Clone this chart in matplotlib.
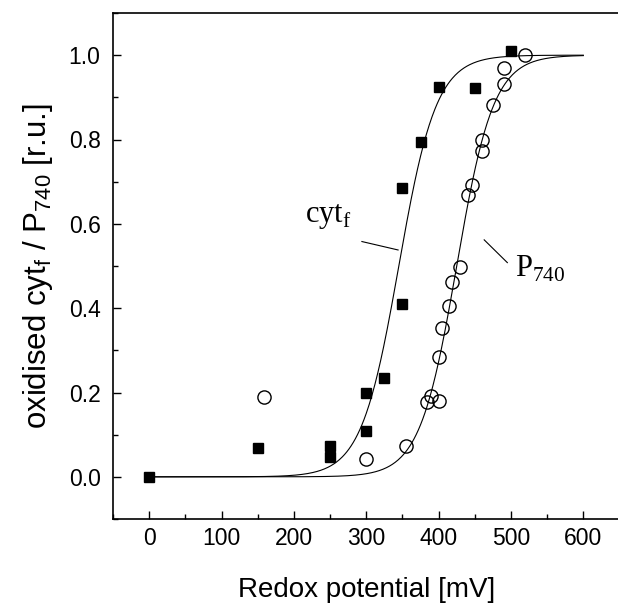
import numpy as np
import matplotlib
matplotlib.use('Agg')
import matplotlib.pyplot as plt
from matplotlib.ticker import MultipleLocator

plt.rcParams['font.family'] = ['Liberation Sans', 'DejaVu Sans']
plt.rcParams['mathtext.fontset'] = 'custom'
plt.rcParams['mathtext.rm'] = 'Liberation Serif'
plt.rcParams['mathtext.sf'] = 'Liberation Sans'

# cyt f (filled squares)
cytE = [0, 150, 250, 250, 300, 300, 325, 350, 350, 375, 400, 450, 500]
cytOx = [0.0, 0.068, 0.074, 0.047, 0.109, 0.198, 0.234, 0.410, 0.686, 0.794, 0.924, 0.922, 1.009]

# P740 (open circles)
pE = [158, 300, 355, 384, 389, 400, 400, 405, 415, 418, 430, 440, 446,
      460, 460, 475, 490, 490, 520]
pOx = [0.189, 0.042, 0.074, 0.178, 0.192, 0.181, 0.285, 0.354, 0.406, 0.463, 0.497, 0.669, 0.693,
       0.773, 0.800, 0.882, 0.932, 0.970, 1.001]

# Nernst fits: midpoint potential and slope [mV]
cytMid, cytSlope = 345, 26
pMid, pSlope = 425, 25.5


def nernst(e, mid, slope):
    return 1.0 / (1.0 + np.exp(-(e - mid) / slope))


fig = plt.figure(figsize=(6.18, 6.04), dpi=100)
ax = fig.add_axes([113 / 618, 85 / 604, 506.5 / 618, 506 / 604])

eFit = np.linspace(0, 600, 601)
ax.plot(eFit, nernst(eFit, cytMid, cytSlope), color='black', lw=0.8)
ax.plot(eFit, nernst(eFit, pMid, pSlope), color='black', lw=0.8)

ax.plot(cytE, cytOx, 's', color='black', markersize=6.5, zorder=3)
ax.plot(pE, pOx, 'o', markerfacecolor='none', markeredgecolor='black',
        markersize=9.5, markeredgewidth=1.0, zorder=3)

ax.set_xlim(-50, 650)
ax.set_ylim(-0.1, 1.1)
ax.xaxis.set_major_locator(MultipleLocator(100))
ax.xaxis.set_minor_locator(MultipleLocator(50))
ax.yaxis.set_major_locator(MultipleLocator(0.2))
ax.yaxis.set_minor_locator(MultipleLocator(0.1))
ax.yaxis.set_major_formatter(matplotlib.ticker.FormatStrFormatter('%.1f'))
ax.tick_params(which='both', direction='in', top=False, right=False, labelsize=16.5, width=1)
ax.tick_params(axis='x', which='major', length=6, pad=6)
ax.tick_params(axis='y', which='major', length=6, pad=9)
ax.tick_params(which='minor', length=3.5)
for s in ax.spines.values():
    s.set_linewidth(1.2)

ax.set_xlabel('Redox potential [mV]', fontsize=20, labelpad=19)
ax.set_ylabel(r'oxidised cyt$_\mathsf{f}$ / P$_\mathsf{740}$ [r.u.]', fontsize=22.5, labelpad=10)

# curve labels with leader lines
ax.plot([294, 344], [0.558, 0.538], color='black', lw=0.8)
ax.text(216, 0.605, r'$\mathrm{cyt}_\mathrm{f}$', fontsize=22, ha='left', va='baseline')
ax.plot([463, 495], [0.562, 0.508], color='black', lw=0.8)
ax.text(505, 0.475, r'$\mathrm{P}_\mathrm{740}$', fontsize=22, ha='left', va='baseline')

fig.savefig('out.png', dpi=100)
